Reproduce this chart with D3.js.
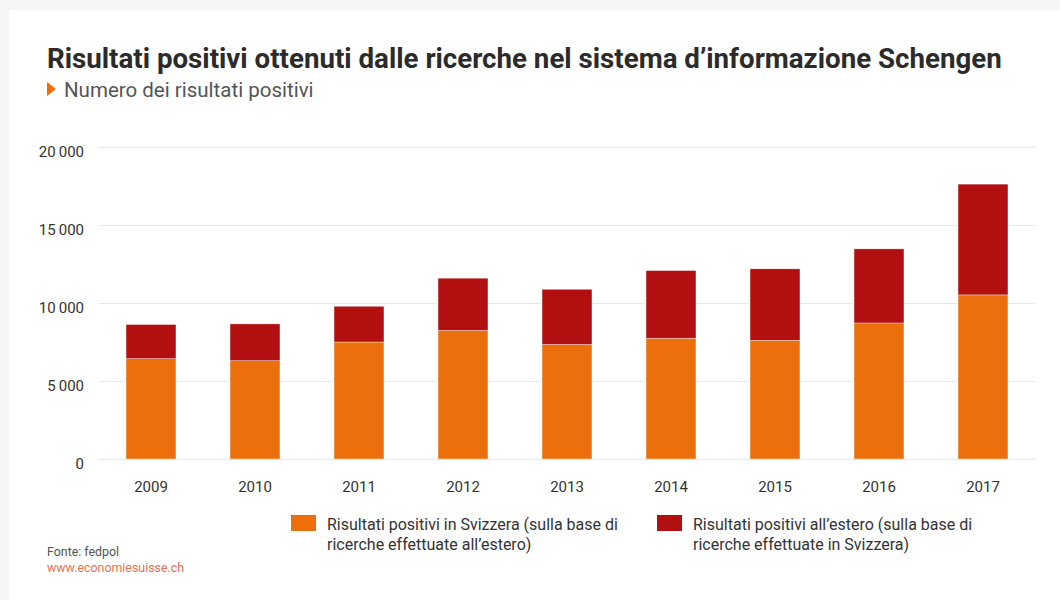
<!DOCTYPE html>
<html>
<head>
<meta charset="utf-8">
<script src="https://cdn.jsdelivr.net/npm/d3@7"></script>
<style>
  html, body { margin: 0; padding: 0; background: #f6f6f6; }
  svg { display: block; font-family: Roboto, "Open Sans", sans-serif; }
</style>
</head>
<body>
<div id="chart"></div>
<script>
const years = ["2009", "2010", "2011", "2012", "2013", "2014", "2015", "2016", "2017"];
const inSvizzera = [6430, 6300, 7500, 8240, 7340, 7740, 7610, 8720, 10520];
const allEstero = [2190, 2360, 2290, 3350, 3540, 4340, 4580, 4750, 7100];
const yTicks = [0, 5000, 10000, 15000, 20000];
const seriesNames = [
    ["Risultati positivi in Svizzera (sulla base di", "ricerche effettuate all\u2019estero)"],
    ["Risultati positivi all\u2019estero (sulla base di", "ricerche effettuate in Svizzera)"]
];
const COLORS = ["#ec6f0b", "#b20f11"];

const W = 1060, H = 600;
const MARGIN = { top: 147, right: 25, bottom: 141, left: 99 };

const svg = d3.select("#chart")
    .append("svg")
    .attr("width", W)
    .attr("height", H);

// white card
svg.append("rect")
    .attr("x", 9).attr("y", 10)
    .attr("width", W - 9).attr("height", H - 10)
    .attr("fill", "#fff");

// title + subtitle
svg.append("text")
    .attr("x", 47).attr("y", 68)
    .attr("font-size", "27.7px")
    .attr("font-weight", "bold")
    .attr("fill", "#2b2b2b")
    .text("Risultati positivi ottenuti dalle ricerche nel sistema d\u2019informazione Schengen");

svg.append("path")
    .attr("d", "M47,82 L56,89 L47,96 Z")
    .attr("fill", COLORS[0]);

svg.append("text")
    .attr("x", 64).attr("y", 97)
    .attr("font-size", "20.5px")
    .attr("fill", "#555")
    .text("Numero dei risultati positivi");

const data = years.map((y, i) => ({ year: y, a: inSvizzera[i], b: allEstero[i] }));
const stack = d3.stack().keys(["a", "b"])(data);

const x = d3.scaleBand()
    .domain(years)
    .range([MARGIN.left, W - MARGIN.right])
    .paddingInner(0.52)
    .paddingOuter(0.26);

const y = d3.scaleLinear()
    .domain([0, 20000])
    .range([H - MARGIN.bottom, MARGIN.top]);

// grid
svg.append("g")
    .selectAll("line")
    .data(yTicks)
    .join("line")
    .attr("x1", MARGIN.left)
    .attr("x2", W - MARGIN.right)
    .attr("y1", d => Math.round(y(d)) + 0.5)
    .attr("y2", d => Math.round(y(d)) + 0.5)
    .attr("stroke", "#e8e8e8")
    .attr("stroke-width", 1);

const yAxis = svg.append("g")
    .attr("transform", `translate(${MARGIN.left}, 0)`)
    .call(d3.axisLeft(y).tickValues(yTicks).tickSize(0).tickPadding(15)
        .tickFormat(d => d3.format(",")(d).replace(/,/g, "\u2009")));
yAxis.select(".domain").remove();
yAxis.selectAll("text")
    .attr("dy", "0.65em")
    .attr("font-size", "15px")
    .attr("fill", "#333")
    .attr("font-family", "Roboto, sans-serif");

const xAxis = svg.append("g")
    .attr("transform", `translate(0, ${y(0)})`)
    .call(d3.axisBottom(x).tickSize(0).tickPadding(22));
xAxis.select(".domain").remove();
xAxis.selectAll("text")
    .attr("font-size", "15px")
    .attr("fill", "#333")
    .attr("font-family", "Roboto, sans-serif");

// bars
svg.append("g")
    .selectAll("g")
    .data(stack)
    .join("g")
    .attr("fill", (d, i) => COLORS[i])
    .selectAll("rect")
    .data(d => d)
    .join("rect")
    .attr("x", d => x(d.data.year))
    .attr("width", x.bandwidth())
    .attr("y", d => y(d[1]))
    .attr("height", d => y(d[0]) - y(d[1]))
    .attr("stroke", "#fff")
    .attr("stroke-opacity", 0.6)
    .attr("stroke-width", 0.6);

// legend
const legendX = [291, 657];
const legend = svg.append("g");
seriesNames.forEach((lines, i) => {
    legend.append("rect")
        .attr("x", legendX[i]).attr("y", 515)
        .attr("width", 25).attr("height", 16)
        .attr("fill", COLORS[i]);
    const t = legend.append("text")
        .attr("x", legendX[i] + 36).attr("y", 530)
        .attr("font-size", "16px")
        .attr("fill", "#333");
    lines.forEach((l, j) => {
        t.append("tspan")
            .attr("x", legendX[i] + 36)
            .attr("dy", j === 0 ? 0 : 20)
            .text(l);
    });
});

// footer
svg.append("text")
    .attr("x", 47).attr("y", 556)
    .attr("font-size", "12.4px")
    .attr("fill", "#555")
    .text("Fonte: fedpol");
svg.append("text")
    .attr("x", 47).attr("y", 572)
    .attr("font-size", "12.4px")
    .attr("fill", "#e8704f")
    .text("www.economiesuisse.ch");
</script>
</body>
</html>
